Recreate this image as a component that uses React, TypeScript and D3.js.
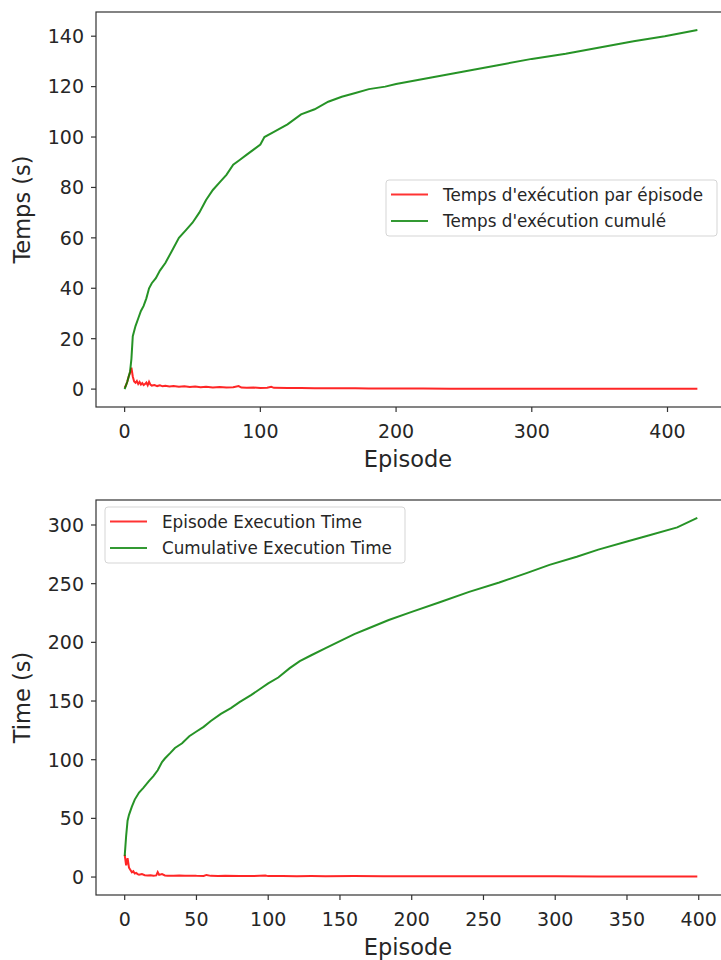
import React from 'react';
import * as d3 from 'd3';

// top chart (French)
const topRedEpisodes = [0, 1, 2, 3, 4, 5, 6, 7, 8, 9, 10, 11, 12, 13, 14, 15, 16, 17, 18, 19, 20, 22, 24, 26, 28, 30, 33, 36, 40, 44, 48, 52, 56, 60, 65, 70, 75, 80, 84, 86, 90, 95, 100, 105, 108, 110, 120, 130, 140, 150, 160, 170, 180, 190, 200, 220, 240, 260, 280, 300, 330, 360, 390, 422];
const topRed = [0.5, 1.5, 3, 5, 6.5, 8.5, 5, 3, 2.5, 3.2, 2, 2.8, 1.8, 2.4, 1.6, 2, 2.6, 1.5, 2.9, 1.8, 1.4, 1.6, 1.2, 1.5, 1.1, 1.3, 1.0, 1.2, 0.9, 1.1, 0.8, 1.0, 0.7, 0.9, 0.6, 0.8, 0.6, 0.7, 1.2, 0.6, 0.5, 0.6, 0.45, 0.5, 0.9, 0.5, 0.4, 0.45, 0.35, 0.35, 0.3, 0.3, 0.28, 0.25, 0.25, 0.2, 0.15, 0.15, 0.12, 0.12, 0.1, 0.1, 0.1, 0.1];
const topCumEpisodes = [0, 2, 4, 5, 6, 8, 10, 12, 14, 16, 18, 20, 23, 26, 30, 35, 40, 45, 50, 55, 60, 65, 70, 75, 80, 85, 90, 95, 100, 103, 110, 120, 130, 140, 150, 160, 170, 180, 192, 200, 225, 250, 275, 300, 325, 350, 375, 398, 422];
const topCum = [0, 3, 7, 12, 21, 25, 28, 31, 33, 36, 40, 42, 44, 47, 50, 55, 60, 63, 66, 70, 75, 79, 82, 85, 89, 91, 93, 95, 97, 100, 102, 105, 109, 111, 114, 116, 117.5, 119, 120, 121, 123.5, 126, 128.5, 131, 133, 135.5, 138, 140, 142.5];
const topXTicks = [0, 100, 200, 300, 400];
const topYTicks = [0, 20, 40, 60, 80, 100, 120, 140];

// bottom chart (English)
const botRedEpisodes = [0, 1, 2, 3, 4, 5, 6, 7, 8, 9, 10, 12, 14, 16, 18, 20, 22, 23, 24, 26, 28, 30, 34, 38, 42, 46, 50, 55, 57, 60, 65, 70, 80, 90, 98, 100, 110, 120, 130, 140, 160, 180, 200, 220, 250, 280, 300, 330, 360, 399];
const botRed = [19, 10, 16, 8, 6, 4, 5, 3, 3.5, 2.5, 2, 2.5, 1.6, 1.3, 1.5, 1.2, 1.4, 4.2, 1.8, 2.5, 1.4, 1.2, 1.0, 1.3, 1.0, 1.2, 1.0, 0.9, 1.8, 1.0, 0.8, 1.0, 0.8, 0.9, 1.3, 0.8, 0.9, 0.7, 0.8, 0.7, 0.8, 0.7, 0.7, 0.6, 0.6, 0.6, 0.6, 0.5, 0.5, 0.5];
const botCumEpisodes = [0, 1, 2, 3, 5, 7, 10, 13, 17, 20, 23, 26, 28, 32, 35, 40, 45, 50, 55, 60, 67, 74, 80, 88, 94, 100, 107, 115, 122, 130, 140, 150, 160, 170, 184, 200, 219, 240, 261, 280, 296, 315, 330, 350, 365, 385, 399];
const botCum = [18, 35, 48, 53, 60, 66, 72, 76, 82, 86, 91, 98, 101, 106, 110, 114, 120, 124, 128, 133, 139, 144, 149, 155, 160, 165, 170, 178, 184, 189, 195, 201, 207, 212, 219, 226, 234, 243, 251, 259, 266, 273, 279, 286, 291, 298, 306];
const botXTicks = [0, 50, 100, 150, 200, 250, 300, 350, 400];
const botYTicks = [0, 50, 100, 150, 200, 250, 300];

const FONT = 'DejaVu Sans, sans-serif';
const RED = '#ff0000';
const GREEN = '#008000';
const TICK_FS = 19;
const LABEL_FS = 22.5;
const LEGEND_FS = 16.8;

type PanelProps = {
  top: number;
  bottom: number;
  xDomain: [number, number];
  yDomain: [number, number];
  xTicks: number[];
  yTicks: number[];
  redX: number[];
  redY: number[];
  cumX: number[];
  cumY: number[];
  yLabel: string;
  legend: string[];
  legendX: number;
  legendY: number;
  legendW: number;
};

function Panel(p: PanelProps) {
  const left = 96;
  const right = 726;
  const x = d3.scaleLinear().domain(p.xDomain).range([left, right]);
  const y = d3.scaleLinear().domain(p.yDomain).range([p.bottom, p.top]);
  const mk = (xs: number[], ys: number[]) =>
    d3.line<number>().x((_, i) => x(xs[i])).y(d => y(d))(ys) || '';

  return (
    <g fontFamily={FONT} fill="#262626">
      <path d={mk(p.redX, p.redY)} fill="none" stroke={RED} strokeOpacity={0.85} strokeWidth={2} />
      <path d={mk(p.cumX, p.cumY)} fill="none" stroke={GREEN} strokeOpacity={0.85} strokeWidth={2} />
      <rect x={left} y={p.top} width={right - left} height={p.bottom - p.top} fill="none" stroke="#333" strokeWidth={1.2} />
      {p.yTicks.map(t => (
        <g key={'y' + t}>
          <line x1={left - 5} x2={left} y1={y(t)} y2={y(t)} stroke="#333" strokeWidth={1.2} />
          <text x={84} y={y(t)} dy="0.36em" textAnchor="end" fontSize={TICK_FS}>{t}</text>
        </g>
      ))}
      {p.xTicks.map(t => (
        <g key={'x' + t}>
          <line x1={x(t)} x2={x(t)} y1={p.bottom} y2={p.bottom + 5} stroke="#333" strokeWidth={1.2} />
          <text x={x(t)} y={p.bottom + 31} textAnchor="middle" fontSize={TICK_FS}>{t}</text>
        </g>
      ))}
      <text x={408} y={p.bottom + 60} textAnchor="middle" fontSize={LABEL_FS}>Episode</text>
      <text transform={`translate(30,${(p.top + p.bottom) / 2}) rotate(-90)`} textAnchor="middle" fontSize={LABEL_FS}>{p.yLabel}</text>
      <g transform={`translate(${p.legendX},${p.legendY})`}>
        <rect x={0} y={0} width={p.legendW} height={56} rx={3} fill="white" fillOpacity={0.8} stroke="#d5d5d5" />
        {p.legend.map((s, i) => (
          <g key={s}>
            <line x1={5} x2={42} y1={14.5 + i * 26.5} y2={14.5 + i * 26.5} stroke={i === 0 ? RED : GREEN} strokeOpacity={0.8} strokeWidth={2} />
            <text x={57} y={14.5 + i * 26.5} dy="0.36em" fontSize={LEGEND_FS}>{s}</text>
          </g>
        ))}
      </g>
    </g>
  );
}

export default function App() {
  return (
    <svg width={721} height={960} style={{ position: 'absolute', left: 0, top: 0, background: 'white' }}>
      <Panel
        top={12}
        bottom={407}
        xDomain={[-21.1, 443.1]}
        yDomain={[-7.1, 149.6]}
        xTicks={topXTicks}
        yTicks={topYTicks}
        redX={topRedEpisodes}
        redY={topRed}
        cumX={topCumEpisodes}
        cumY={topCum}
        yLabel="Temps (s)"
        legend={["Temps d'exécution par épisode", "Temps d'exécution cumulé"]}
        legendX={386}
        legendY={180}
        legendW={331}
      />
      <Panel
        top={500}
        bottom={895}
        xDomain={[-20, 419]}
        yDomain={[-15.3, 321.3]}
        xTicks={botXTicks}
        yTicks={botYTicks}
        redX={botRedEpisodes}
        redY={botRed}
        cumX={botCumEpisodes}
        cumY={botCum}
        yLabel="Time (s)"
        legend={['Episode Execution Time', 'Cumulative Execution Time']}
        legendX={105}
        legendY={507}
        legendW={300}
      />
    </svg>
  );
}
